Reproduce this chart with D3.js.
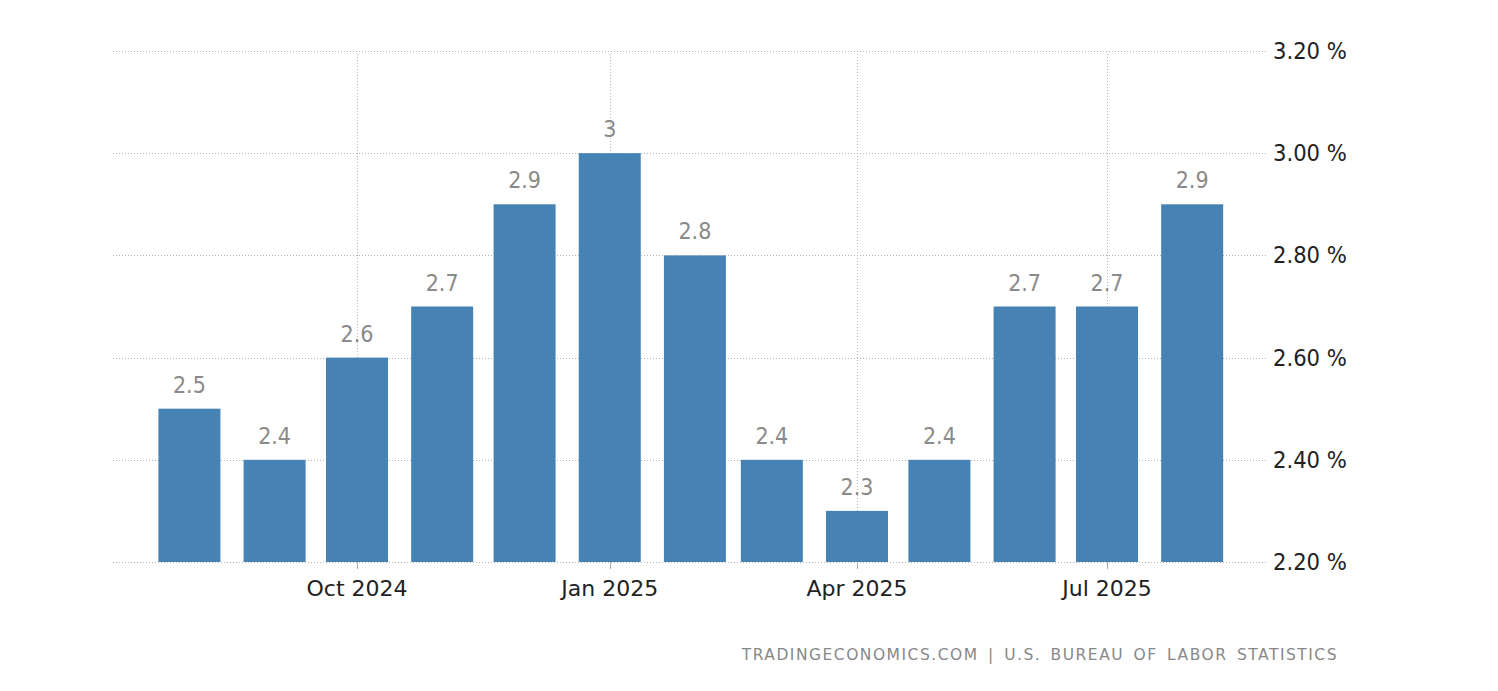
<!DOCTYPE html>
<html><head><meta charset="utf-8">
<script src="https://cdn.jsdelivr.net/npm/d3@7"></script>
<style>body{margin:0;background:#fff;} svg{display:block;}</style>
</head><body>
<svg id="c" width="1498" height="691"></svg>
<script>
const months = ["2024-08","2024-09","2024-10","2024-11","2024-12","2025-01","2025-02","2025-03","2025-04","2025-05","2025-06","2025-07","2025-08"];
const values = [2.5,2.4,2.6,2.7,2.9,3.0,2.8,2.4,2.3,2.4,2.7,2.7,2.9];
const valueLabels = ["2.5","2.4","2.6","2.7","2.9","3","2.8","2.4","2.3","2.4","2.7","2.7","2.9"];
const yTicks = [2.2,2.4,2.6,2.8,3.0,3.2];
const xTicks = ["2024-10","2025-01","2025-04","2025-07"];
const xTickLabels = ["Oct 2024","Jan 2025","Apr 2025","Jul 2025"];
const source = "TRADINGECONOMICS.COM | U.S. BUREAU OF LABOR STATISTICS";

const parse = d3.timeParse("%Y-%m");
const svg = d3.select("#c");
const font = "'DejaVu Sans',sans-serif";
const fontC = "'DejaVu Sans Condensed','DejaVu Sans',sans-serif";

const x = d3.scaleTime().domain([parse("2024-10"), parse("2025-07")]).range([357, 1107]);
const y = d3.scaleLinear().domain([2.2, 3.2]).range([562, 51]);
const left = 113, right = 1268, barW = 62;

// horizontal grid
svg.append("g").selectAll("line").data(yTicks).join("line")
  .attr("x1", left).attr("x2", right)
  .attr("y1", d => Math.round(y(d))+0.5).attr("y2", d => Math.round(y(d))+0.5)
  .attr("stroke", "#b4b4b4").attr("stroke-width", 1).attr("stroke-dasharray", "1,2");
// vertical grid
svg.append("g").selectAll("line").data(xTicks).join("line")
  .attr("x1", d => Math.round(x(parse(d)))+0.5).attr("x2", d => Math.round(x(parse(d)))+0.5)
  .attr("y1", y(3.2)+3).attr("y2", y(2.2))
  .attr("stroke", "#b4b4b4").attr("stroke-width", 1).attr("stroke-dasharray", "1,2");
// ticks
svg.append("g").selectAll("line").data(xTicks).join("line")
  .attr("x1", d => Math.round(x(parse(d)))+0.5).attr("x2", d => Math.round(x(parse(d)))+0.5)
  .attr("y1", y(2.2)).attr("y2", y(2.2)+7)
  .attr("stroke", "#aaa").attr("stroke-width", 1);

// bars
svg.append("g").selectAll("rect").data(values).join("rect")
  .attr("x", (d,i) => x(parse(months[i])) - barW/2)
  .attr("width", barW)
  .attr("y", d => y(d))
  .attr("height", d => y(2.2) - y(d))
  .attr("fill", "#4682b4");

// value labels
svg.append("g").selectAll("text").data(values).join("text")
  .attr("x", (d,i) => x(parse(months[i])))
  .attr("y", d => y(d) - 16)
  .attr("text-anchor", "middle")
  .attr("font-family", fontC).attr("font-size", 23)
  .attr("fill", "#8a8a8a")
  .text((d,i) => valueLabels[i]);

// y labels
svg.append("g").selectAll("text").data(yTicks).join("text")
  .attr("x", 1273).attr("y", d => y(d) + 8)
  .attr("font-family", fontC).attr("font-size", 23.5)
  .attr("fill", "#222")
  .text(d => d.toFixed(2) + " %");

// x labels
svg.append("g").selectAll("text").data(xTicks).join("text")
  .attr("x", d => x(parse(d))).attr("y", 596)
  .attr("text-anchor", "middle")
  .attr("font-family", font).attr("font-size", 22)
  .attr("fill", "#222")
  .text((d,i) => xTickLabels[i]);

svg.append("text").attr("x", 1338).attr("y", 660).attr("text-anchor", "end")
  .attr("font-family", font).attr("font-size", 15.5).attr("fill", "#888")
  .attr("letter-spacing", 1.5).attr("word-spacing", 3)
  .text(source);
</script>
</body></html>
